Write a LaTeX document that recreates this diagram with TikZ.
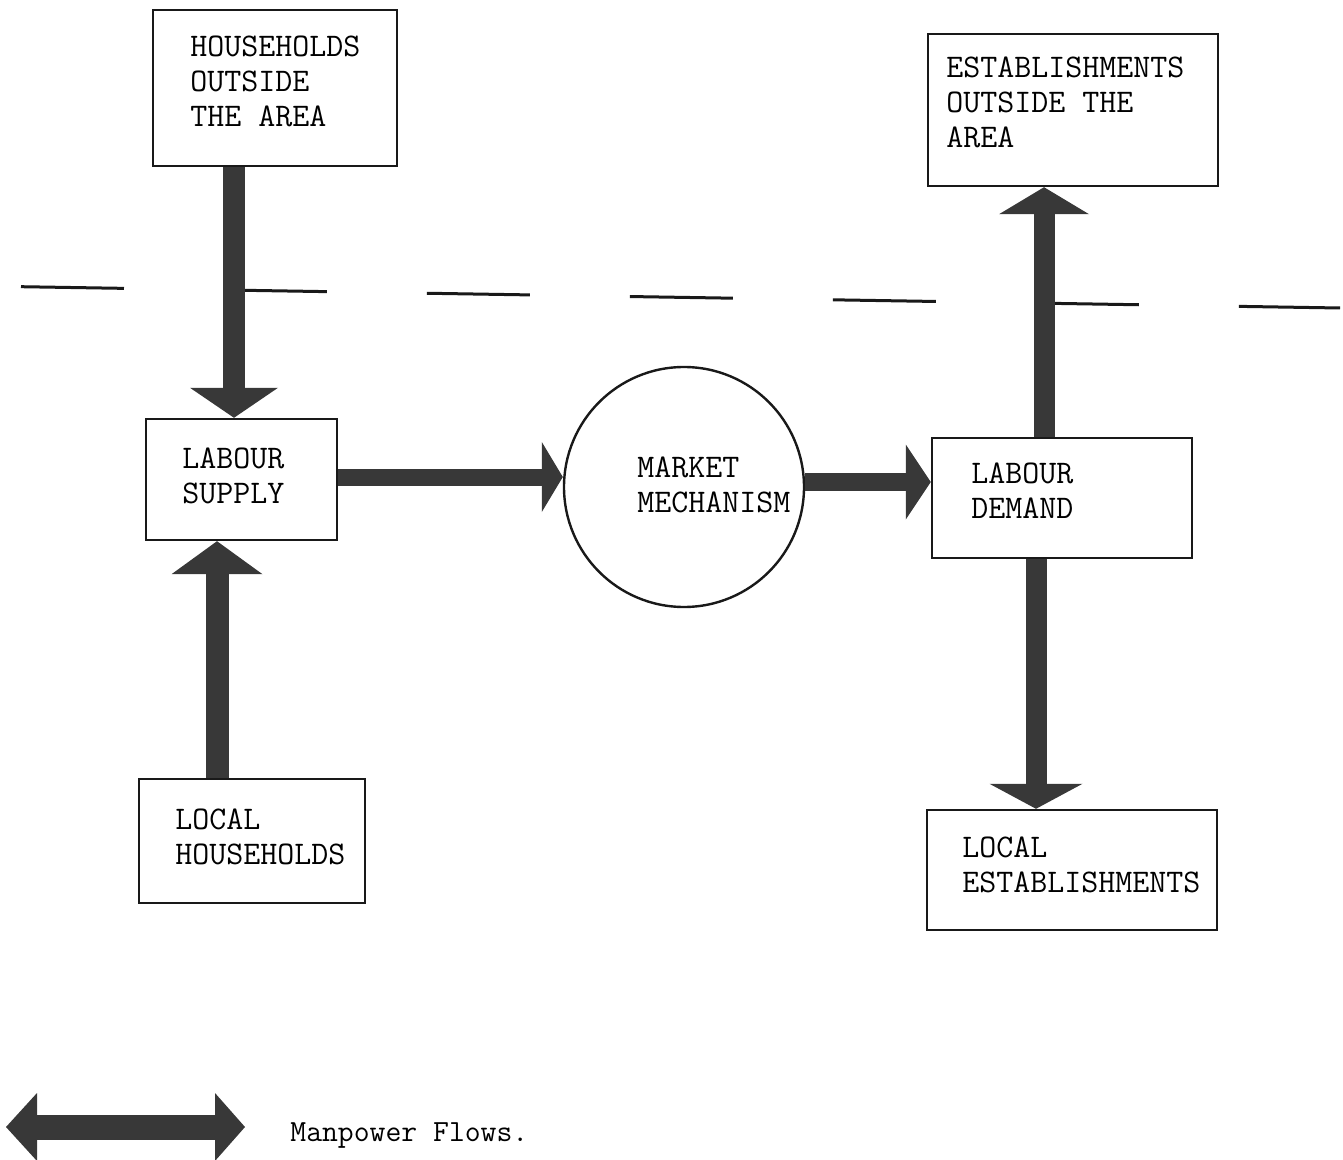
\documentclass[tikz,border=0pt]{standalone}
\usepackage{fontspec}
\usetikzlibrary{arrows.meta}
\definecolor{flowc}{gray}{0.22}
\tikzset{
  box/.style={draw=black!90, line width=1.2pt, inner sep=0pt, fill=white},
  txt/.style={anchor=north west, inner sep=0pt, align=left, font=\ttfamily\fontsize{16.5}{17.5}\selectfont\addfontfeatures{FakeBold=0.5}},
  fat/.style n args={3}{line width=#1, draw=flowc, -{Triangle[width=#2,length=#3,line width=0pt]}},
  divider/.style={draw=black!90, line width=1.5pt, dash pattern=on 51.5pt off 50pt}
}
\begin{document}
\begin{tikzpicture}[x=0.5pt,y=-0.5pt]
\useasboundingbox (0,0) rectangle (1343,1160);

% dashed area boundary
\coordinate (dl) at (21,286.7);
\coordinate (dr) at (1340,308);
\draw[divider] (dl) -- (dr);

% boxes
\node[box, minimum width=122pt, minimum height=78pt] (ho) at (275,88) {};
\node[box, minimum width=145pt, minimum height=76pt] (eo) at (1073,110) {};
\node[box, minimum width=95.5pt, minimum height=60.5pt] (ls) at (241.5,479.5) {};
\node[box, circle, minimum size=120pt] (mm) at (684,487) {};
\node[box, minimum width=130pt, minimum height=60pt] (ld) at (1062,498) {};
\node[box, minimum width=113pt, minimum height=62pt] (lh) at (252,841) {};
\node[box, minimum width=145pt, minimum height=60pt] (le) at (1072,870) {};

% texts
\node[txt] (hot) at (190,36) {HOUSEHOLDS\\OUTSIDE\\THE AREA};
\node[txt] (eot) at (946,56) {ESTABLISHMENTS\\OUTSIDE THE\\AREA};
\node[txt] (lst) at (182,447) {LABOUR\\SUPPLY};
\node[txt] (mmt) at (637,456) {MARKET\\MECHANISM};
\node[txt] (ldt) at (971,462) {LABOUR\\DEMAND};
\node[txt] (lht) at (175,808) {LOCAL\\HOUSEHOLDS};
\node[txt] (let) at (962,836) {LOCAL\\ESTABLISHMENTS};

% lanes
\coordinate (xa) at (234,0);
\coordinate (xb) at (217,0);
\coordinate (xc) at (1044,0);
\coordinate (xd) at (1036,0);
\coordinate (ya) at (0,477);
\coordinate (yb) at (0,482);

% manpower flows
\draw[fat={11pt}{44pt}{15pt}] (ho.south -| xa) -- (ls.north -| xa);
\draw[fat={11.5pt}{45.5pt}{16.5pt}] (lh.north -| xb) -- (ls.south -| xb);
\draw[fat={8.5pt}{35pt}{10.5pt}] (ls.east |- ya) -- (mm.west |- ya);
\draw[fat={9pt}{37.5pt}{12.5pt}] (mm.east |- yb) -- (ld.west |- yb);
\draw[fat={10.5pt}{45pt}{13.5pt}] (ld.north -| xc) -- (eo.south -| xc);
\draw[fat={10.5pt}{46.5pt}{12.5pt}] (ld.south -| xd) -- (le.north -| xd);

% legend
\coordinate (lgl) at (6,1127);
\coordinate (lgr) at (245,1127);
\draw[line width=12.5pt, draw=flowc, {Triangle[width=34pt,length=15.5pt,line width=0pt]}-{Triangle[width=34pt,length=15pt,line width=0pt]}] (lgl) -- (lgr);
\node[anchor=north west, inner sep=0pt, font=\ttfamily\fontsize{15.4}{18}\selectfont\addfontfeatures{FakeBold=0.5}] (leg) at (290,1122) {Manpower Flows.};
\end{tikzpicture}
\end{document}
